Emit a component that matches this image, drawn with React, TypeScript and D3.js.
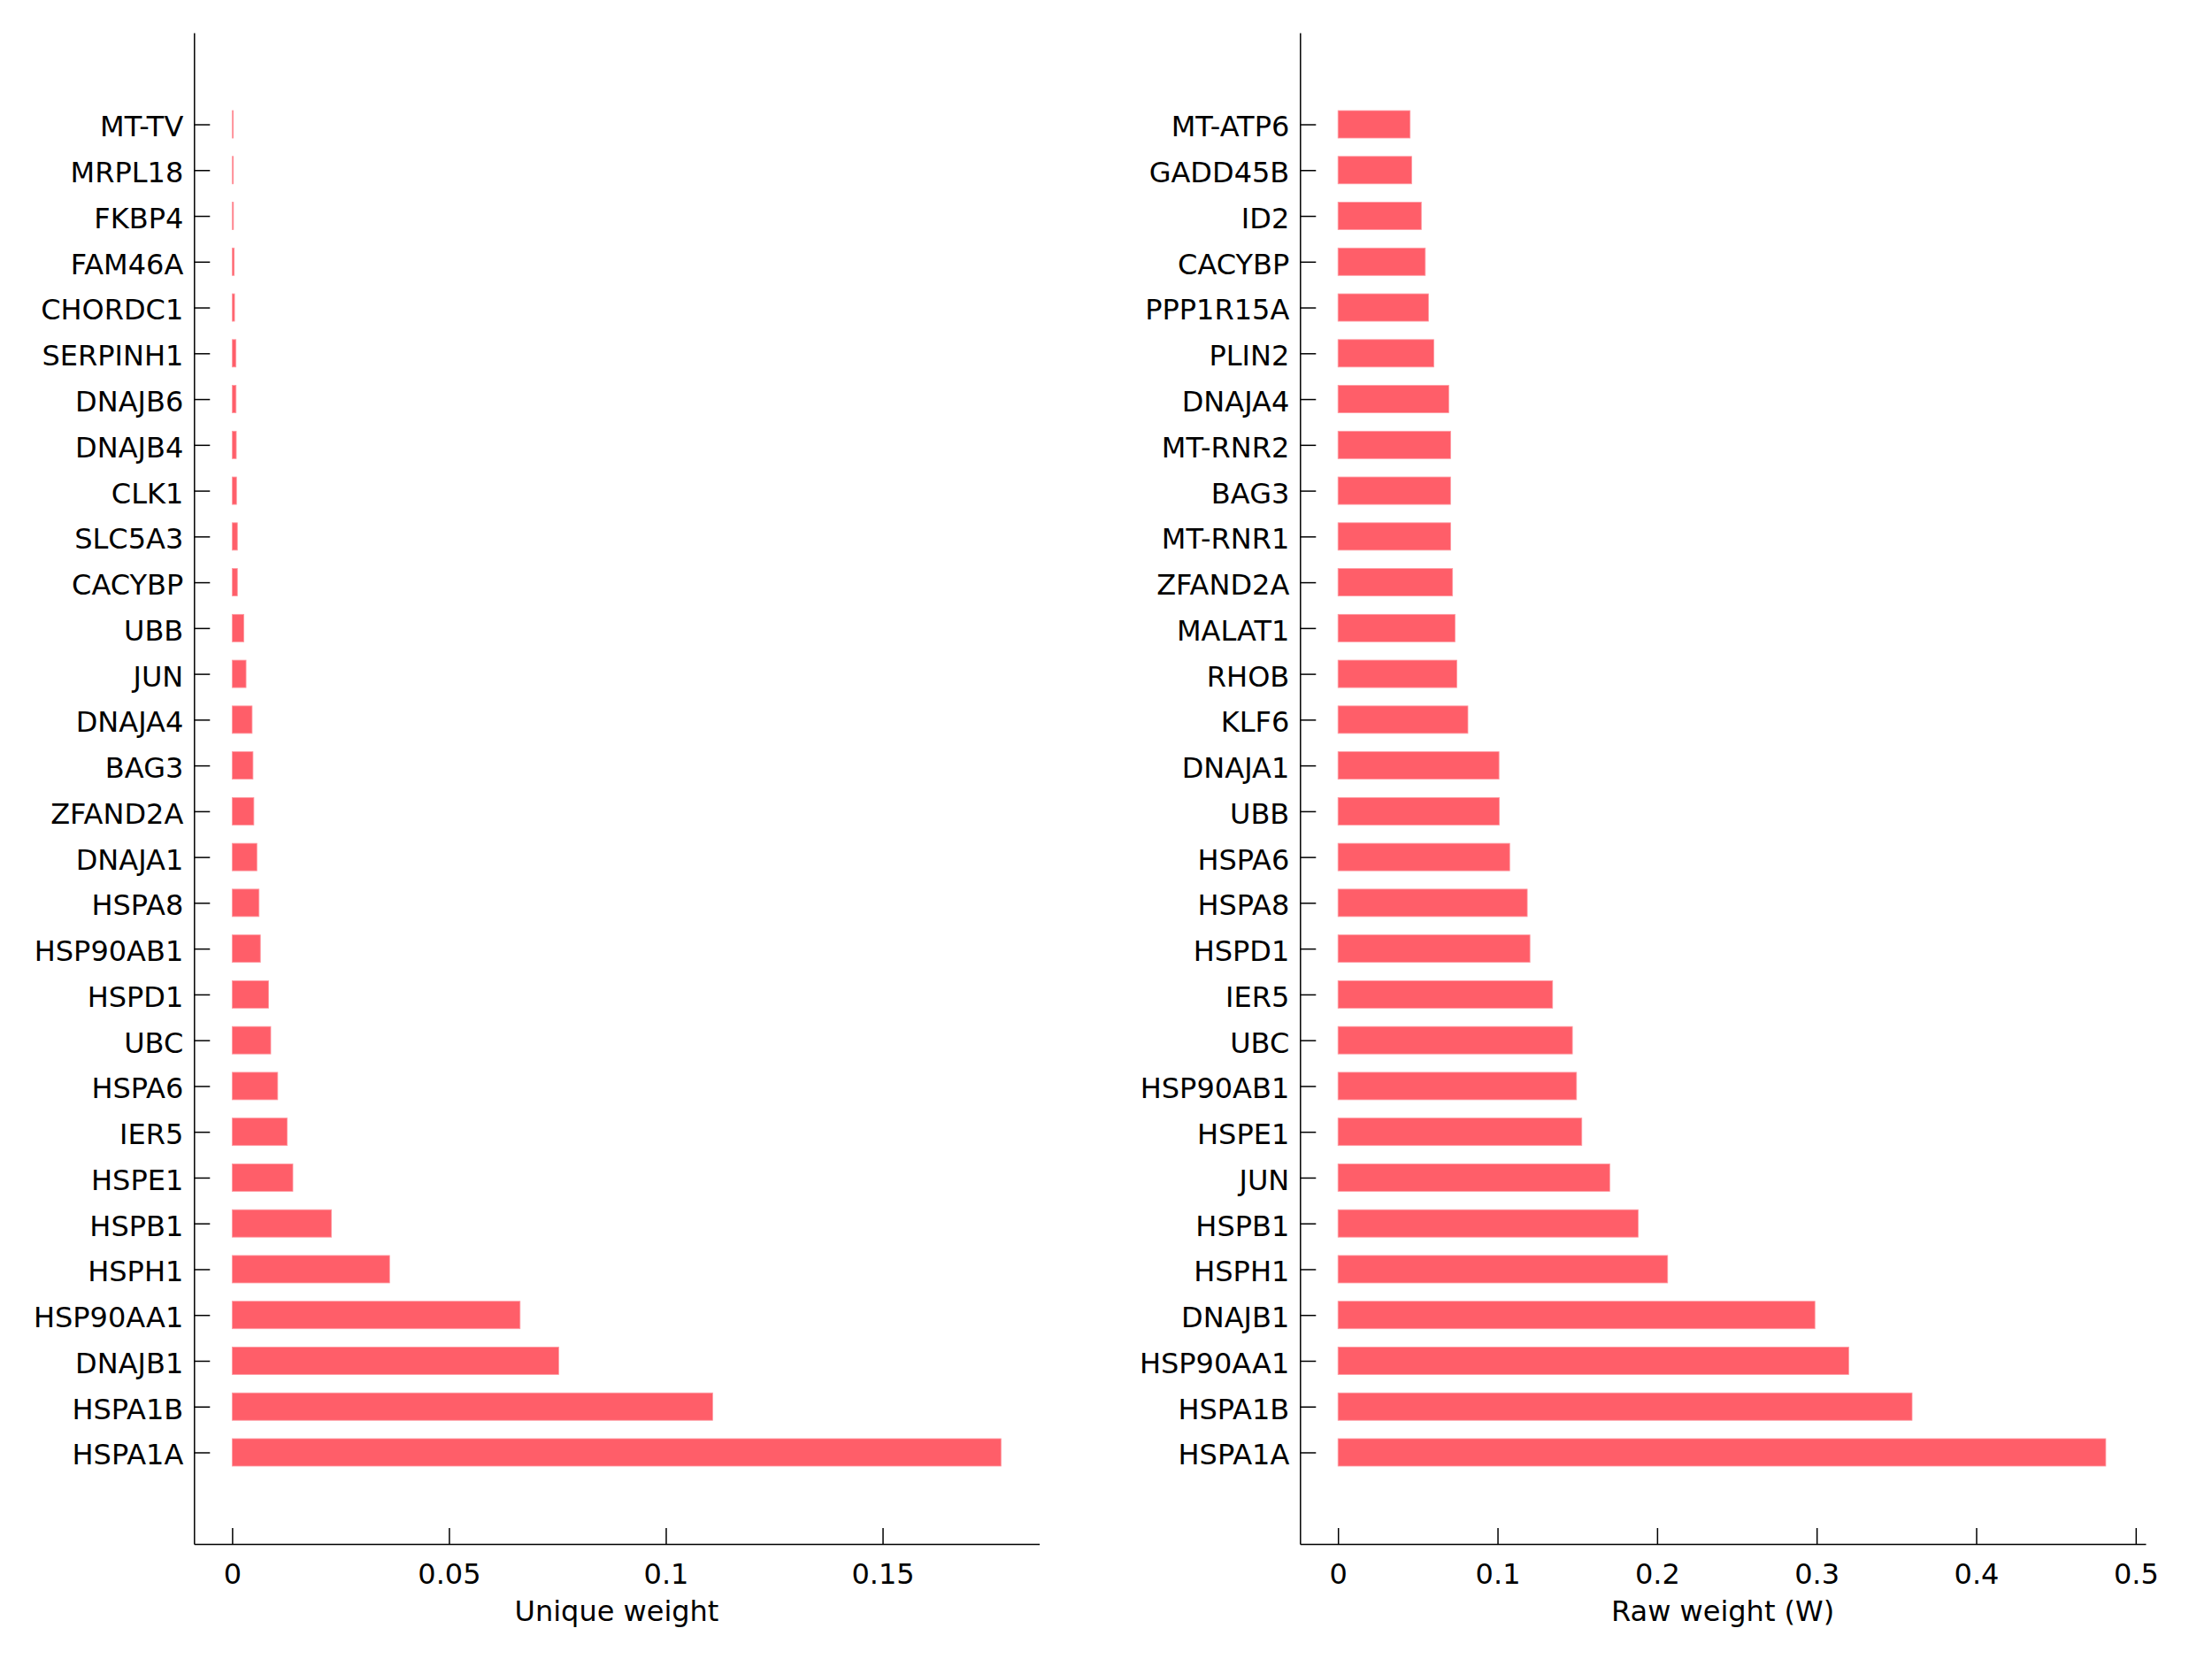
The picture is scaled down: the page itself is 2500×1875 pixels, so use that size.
import { useEffect, useRef } from "react";
import * as d3 from "d3";

// left panel: unique weight, top to bottom
const uniqueGenes = [
  "MT-TV", "MRPL18", "FKBP4", "FAM46A", "CHORDC1", "SERPINH1", "DNAJB6", "DNAJB4",
  "CLK1", "SLC5A3", "CACYBP", "UBB", "JUN", "DNAJA4", "BAG3", "ZFAND2A", "DNAJA1",
  "HSPA8", "HSP90AB1", "HSPD1", "UBC", "HSPA6", "IER5", "HSPE1", "HSPB1", "HSPH1",
  "HSP90AA1", "DNAJB1", "HSPA1B", "HSPA1A",
];
const uniqueValues = [
  0.00027, 0.00028, 0.0003, 0.00048, 0.00055, 0.00088, 0.0009, 0.00095,
  0.001, 0.0012, 0.0012, 0.0027, 0.0032, 0.0046, 0.0048, 0.005, 0.0057,
  0.0062, 0.0065, 0.0084, 0.0089, 0.0105, 0.0127, 0.014, 0.0229, 0.0363,
  0.0664, 0.0753, 0.1108, 0.1773,
];
const uniqueTicks = [0, 0.05, 0.1, 0.15];

// right panel: raw weight, top to bottom
const rawGenes = [
  "MT-ATP6", "GADD45B", "ID2", "CACYBP", "PPP1R15A", "PLIN2", "DNAJA4", "MT-RNR2",
  "BAG3", "MT-RNR1", "ZFAND2A", "MALAT1", "RHOB", "KLF6", "DNAJA1", "UBB", "HSPA6",
  "HSPA8", "HSPD1", "IER5", "UBC", "HSP90AB1", "HSPE1", "JUN", "HSPB1", "HSPH1",
  "DNAJB1", "HSP90AA1", "HSPA1B", "HSPA1A",
];
const rawValues = [
  0.0452, 0.0462, 0.0522, 0.0547, 0.0567, 0.0601, 0.0694, 0.0706,
  0.0705, 0.0706, 0.0718, 0.0734, 0.0745, 0.0814, 0.1009, 0.1011, 0.1076,
  0.1186, 0.1203, 0.1345, 0.1469, 0.1495, 0.1528, 0.1703, 0.1881, 0.2066,
  0.2989, 0.3201, 0.3598, 0.4812,
];
const rawTicks = [0, 0.1, 0.2, 0.3, 0.4, 0.5];

const W = 2500;
const H = 1875;
const TOP = 37;
const BOTTOM = 1745;
const FONT = "'DejaVu Sans', 'Liberation Sans', sans-serif";
const BAR = "#ff5e69";

export default function App() {
  const svgRef = useRef<SVGSVGElement>(null);

  useEffect(() => {
    document.body.style.margin = "0";
    if (!svgRef.current) return;
    const svg = d3.select(svgRef.current);
    svg.selectAll("*").remove();

    const panels = [
      { genes: uniqueGenes, values: uniqueValues, ticks: uniqueTicks, x0: 219.3, x1: 1174.6, dom: [-0.00879, 0.18613], label: "Unique weight" },
      { genes: rawGenes, values: rawValues, ticks: rawTicks, x0: 1469.3, x1: 2425, dom: [-0.0238, 0.5062], label: "Raw weight (W)" },
    ];

    panels.forEach(p => {
      const x = d3.scaleLinear().domain(p.dom).range([p.x0, p.x1]);
      const y = d3.scalePoint<string>().domain(p.genes).range([TOP, BOTTOM]).padding(2);
      const g = svg.append("g");

      // bars
      g.selectAll("rect")
        .data(p.genes.map((k, i) => ({ k, v: p.values[i] })))
        .join("rect")
        .attr("x", x(0))
        .attr("y", d => y(d.k)! - 15.5)
        .attr("width", d => x(d.v) - x(0))
        .attr("height", 31)
        .attr("fill", BAR)
        .attr("stroke", "#ff9aa2")
        .attr("stroke-width", 0.8);

      // y axis, ticks pointing inward
      g.append("g")
        .attr("transform", `translate(${p.x0},0)`)
        .call(d3.axisLeft(y).tickSize(-18).tickSizeOuter(0).tickPadding(12))
        .call(a => a.selectAll("line, path").attr("stroke", "#000").attr("stroke-width", 1.5))
        .selectAll("text")
        .attr("dy", "0.42em")
        .style("font-family", FONT).style("font-size", "32px").attr("fill", "#000");

      // x axis
      g.append("g")
        .attr("transform", `translate(0,${BOTTOM})`)
        .call(d3.axisBottom(x).tickValues(p.ticks).tickFormat(d => String(d)).tickSize(-18).tickSizeOuter(0).tickPadding(22))
        .call(a => a.selectAll("line, path").attr("stroke", "#000").attr("stroke-width", 1.5))
        .selectAll("text")
        .style("font-family", FONT).style("font-size", "32px").attr("fill", "#000");

      g.append("text")
        .attr("x", (p.x0 + p.x1) / 2)
        .attr("y", 1832)
        .attr("text-anchor", "middle")
        .style("font-family", FONT).style("font-size", "32px")
        .text(p.label);
    });
  }, []);

  return <svg ref={svgRef} width={W} height={H} style={{ display: "block", background: "#fff" }} />;
}
